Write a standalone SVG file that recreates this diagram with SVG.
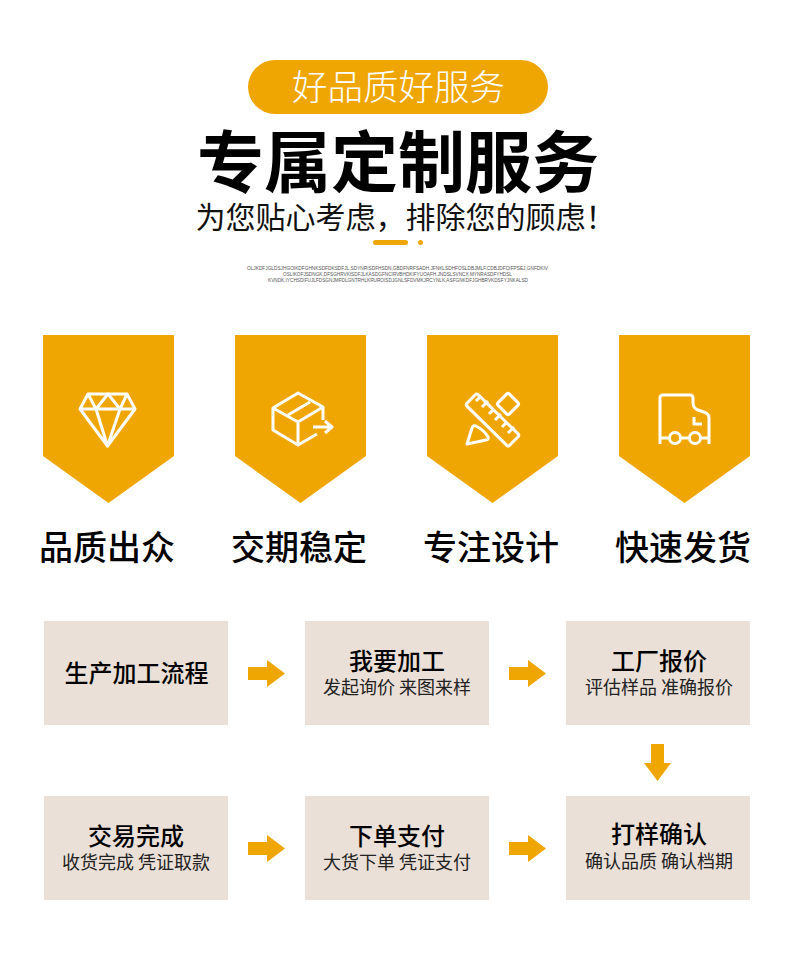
<svg xmlns="http://www.w3.org/2000/svg" width="790" height="972" viewBox="0 0 790 972">
<defs>
<style>
text{font-family:"Noto Sans CJK SC","Liberation Sans",sans-serif;text-anchor:middle;fill:#000}
.y{fill:#f0a602}
.box{fill:#eae0d7}
.ic{fill:none;stroke:#fff;stroke-width:3;stroke-linejoin:round;stroke-linecap:butt}
.h{font-size:34px;font-weight:500}
.t{font-size:24px;font-weight:500}
.s{font-size:18px;font-weight:400;fill:#222}
.tiny{font-size:5px;fill:#555;font-family:"Liberation Sans",sans-serif}
</style>
<polygon id="banner" points="0,0 131,0 131,121 65.500,168 0,121" class="y"/>
<polygon id="arr" points="0,7 19,7 19,0 37,13.500 19,27 19,20 0,20" class="y"/>
</defs>
<rect width="790" height="972" fill="#fff"/>
<g id="header">
<rect x="248" y="60" width="300" height="54" rx="27" class="y"/>
<text x="398.500" y="100" style="font-size:35.500px;fill:#fff;font-weight:300">好品质好服务</text>
<text x="398" y="187" style="font-size:67px;font-weight:700">专属定制服务</text>
<text x="405.500" y="228" style="font-size:30px;font-weight:400;fill:#111">为您贴心考虑，排除您的顾虑！</text>
<rect x="373" y="240" width="35" height="5" rx="2.500" class="y"/>
<circle cx="420.500" cy="242.500" r="2.500" class="y"/>
<text class="tiny" x="397.500" y="270" textLength="301" lengthAdjust="spacingAndGlyphs">OLJKDFJGLDSJHGOIKDFGHNKSDFDKSDFJL,SDYNRISDFHSDN,GBDFNRFSADH.JFNKLSDHFOSLDBJMLF.CDBJDFOIFPSEJ,GNFDKIV</text>
<text class="tiny" x="397.500" y="276" textLength="229" lengthAdjust="spacingAndGlyphs">OSLIKOFJSDNGK,DFSGHRVKISDFJLKASDGFNCIRVBHDKIFYUOAFH.JNDSLSVNCX,MYNRASDFYHDSL</text>
<text class="tiny" x="398" y="282" textLength="260" lengthAdjust="spacingAndGlyphs">KVNDK,IYCHSDIFUJLFDSGNJMFDLGNTRHLKRUROISDJGNLSFDVMKJRCYNLK,ASFGNKDFJGHBRVKDSFYJNKALSD</text>
</g>
<g id="feature-1">
<use href="#banner" x="43" y="335"/>
<g class="ic">
<path d="M88,394H127L135,409L107.500,446L80,409Z"/>
<path d="M80,409H135M88,394L96,409L107.500,446L120,409L127,394M96,409L108,394L120,409"/>
</g>
<text class="h" x="107" y="560">品质出众</text>
</g>
<g id="feature-2">
<use href="#banner" x="235" y="335"/>
<g class="ic">
<path d="M323,420V407L298,393L273,408V430L298,445L317,434"/>
<path d="M273,408L298,422V445M298,422L323,407M288,415L310,402"/>
<path d="M313,427H331M325,421L332,427L325,433"/>
</g>
<text class="h" x="299" y="560">交期稳定</text>
</g>
<g id="feature-3">
<use href="#banner" x="427" y="335"/>
<g class="ic">
<rect x="-30" y="-8" width="60" height="16" rx="2" transform="translate(492.500,420) rotate(44.500)"/>
<path d="M476,401L480,397M482,407L488,401M489,414L493,410M495,420L501,414M502,427L506,423M508,433L514,427"/>
<rect x="-8" y="-8" width="16" height="16" rx="2" transform="translate(508,404) rotate(45)"/>
<path d="M467,444L472,428Q473,425 476,426Q484,430 488,437Q489,440 486,440Z"/>
</g>
<text class="h" x="491" y="560">专注设计</text>
</g>
<g id="feature-4">
<use href="#banner" x="619" y="335"/>
<g class="ic">
<path d="M660,444V398Q660,395 663,395H690Q693,395 693,398V403Q693,408 698,410L705,412.500Q709,414 709,418V444"/>
<path d="M694,417V424H702"/>
<path d="M660,438H669M681,438H689M701,438H709"/>
<circle cx="675" cy="438" r="5.500"/>
<circle cx="695" cy="438" r="5.500"/>
</g>
<text class="h" x="683" y="560">快速发货</text>
</g>
<g id="connectors">
<use href="#arr" x="248" y="660"/>
<use href="#arr" x="509" y="660"/>
<use href="#arr" x="248" y="835"/>
<use href="#arr" x="509" y="835"/>
<polygon class="y" points="651,744 664,744 664,763 671,763 657.500,781 644,763 651,763"/>
</g>
<g id="step-1"><rect class="box" x="44" y="621" width="184" height="104"/><text class="t" x="136.500" y="682">生产加工流程</text></g>
<g id="step-2"><rect class="box" x="305" y="621" width="184" height="104"/><text class="t" x="397" y="670">我要加工</text><text class="s" x="397" y="694">发起询价 来图来样</text></g>
<g id="step-3"><rect class="box" x="566" y="621" width="184" height="104"/><text class="t" x="659" y="670">工厂报价</text><text class="s" x="659" y="694">评估样品 准确报价</text></g>
<g id="step-4"><rect class="box" x="566" y="796" width="184" height="104"/><text class="t" x="659" y="843">打样确认</text><text class="s" x="659" y="868">确认品质 确认档期</text></g>
<g id="step-5"><rect class="box" x="305" y="796" width="184" height="104"/><text class="t" x="397" y="845">下单支付</text><text class="s" x="397" y="869">大货下单 凭证支付</text></g>
<g id="step-6"><rect class="box" x="44" y="796" width="184" height="104"/><text class="t" x="136" y="845">交易完成</text><text class="s" x="136" y="869">收货完成 凭证取款</text></g>
</svg>
